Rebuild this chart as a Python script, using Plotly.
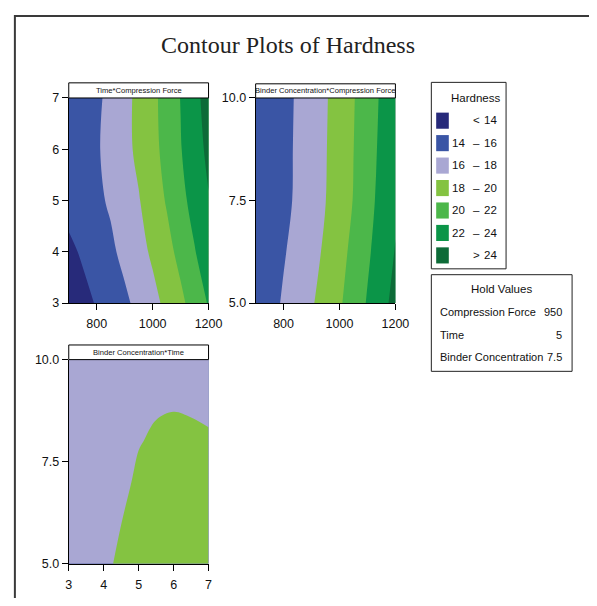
import plotly.graph_objects as go

# page is 597x606; body has an 8px margin, so the figure itself is 581x590
PAGE_W, PAGE_H = 597, 606
OFF = 8
W, H = PAGE_W - 2 * OFF, PAGE_H - 2 * OFF

# ---------------- data ----------------
levels = [14, 16, 18, 20, 22, 24]
band_colors = ["#272a7a", "#3a55a5", "#a9a7d3", "#84c341", "#4cb74a", "#0b9548", "#0d6b38"]

compression_force = [700, 750, 800, 850, 900, 950, 1000, 1050, 1100, 1150, 1200]
time_vals = [3, 4, 5, 6, 7]
binder_vals = [5.0, 6.25, 7.5, 8.75, 10.0]
time_vals_fine = [3, 3.5, 4, 4.5, 5, 5.5, 6, 6.5, 7]
binder_vals_p3 = [5, 6, 7, 8, 9, 10]

# Hardness, Time (rows) x Compression Force (cols)
hardness_time_cf = [
    [12.65, 13.40, 14.15, 14.90, 15.65, 16.50, 17.44, 18.45, 19.57, 20.83, 22.15],
    [13.55, 14.26, 14.96, 15.67, 16.48, 17.36, 18.30, 19.38, 20.56, 21.89, 23.20],
    [14.70, 15.18, 15.66, 16.23, 17.06, 17.88, 18.99, 20.15, 21.42, 22.70, 23.90],
    [14.50, 15.15, 15.80, 16.60, 17.47, 18.40, 19.44, 20.60, 21.90, 23.16, 24.43],
    [14.40, 15.06, 15.64, 16.52, 17.46, 18.46, 19.54, 20.75, 22.05, 23.42, 24.80],
]
# Hardness, Binder Concentration (rows) x Compression Force (cols)
hardness_bc_cf = [
    [14.50, 15.36, 16.21, 17.01, 17.81, 18.76, 19.76, 20.93, 22.15, 23.38, 24.60],
    [14.40, 15.13, 15.85, 16.63, 17.42, 18.28, 19.35, 20.49, 21.71, 22.90, 24.10],
    [14.30, 14.93, 15.57, 16.27, 17.12, 17.97, 19.01, 20.07, 21.31, 22.61, 23.70],
    [14.30, 14.93, 15.55, 16.23, 17.07, 17.90, 18.93, 19.98, 21.18, 22.39, 23.60],
    [14.30, 14.91, 15.52, 16.18, 17.01, 17.83, 18.84, 19.89, 21.06, 22.24, 23.40],
]
# Hardness, Binder Concentration (rows) x Time (cols)
hardness_bc_time = [
    [17.00, 17.30, 17.45, 18.475, 19.35, 19.76, 19.80, 19.79, 19.67],
    [16.90, 17.10, 17.00, 17.98, 18.85, 19.26, 19.36, 19.29, 19.17],
    [16.80, 16.90, 16.80, 17.50, 18.35, 18.76, 18.86, 18.79, 18.67],
    [16.70, 16.80, 16.70, 17.10, 17.90, 18.26, 18.36, 18.29, 18.17],
    [16.60, 16.70, 16.60, 16.80, 17.35, 17.76, 17.86, 17.79, 17.67],
    [16.50, 16.60, 16.50, 16.60, 16.90, 17.20, 17.30, 17.30, 17.20],
]

panel_titles = ["Time*Compression Force", "Binder Concentration*Compression Force", "Binder Concentration*Time"]
hold_names = ["Compression Force", "Time", "Binder Concentration"]
hold_values = ["950", "5", "7.5"]

# ---------------- helpers (page pixels -> paper) ----------------
def px(x):
    return (x - OFF) / W

def py(y):
    return 1 - (y - OFF) / H

SANS = "Liberation Sans, Arial, sans-serif"
colorscale = [[i / (len(band_colors) - 1), c] for i, c in enumerate(band_colors)]
contours = dict(start=levels[0], end=levels[-1], size=levels[1] - levels[0],
                coloring="fill", showlines=False)

fig = go.Figure()

def add_contour(x, y, z, xa, ya):
    fig.add_trace(go.Contour(x=x, y=y, z=z, autocontour=False, contours=contours,
                             colorscale=colorscale, showscale=False,
                             line=dict(width=0, smoothing=1.0),
                             xaxis=xa, yaxis=ya, hoverinfo="skip"))

add_contour(compression_force, time_vals, hardness_time_cf, "x", "y")
add_contour(compression_force, binder_vals, hardness_bc_cf, "x2", "y2")
add_contour(time_vals_fine, binder_vals_p3, hardness_bc_time, "x3", "y3")

# panel geometry (page pixels)
panels = [
    dict(x0=67.5, x1=211.5, y0=93, y1=303, hy=77.5),
    dict(x0=260, x1=404, y0=93, y1=303, hy=78.5),
    dict(x0=67.5, x1=211.5, y0=361, y1=570, hy=346),
]

tickfont = dict(family=SANS, size=12.5, color="#111")
axcommon = dict(showline=True, linecolor="black", linewidth=1, ticks="outside",
                ticklen=6, tickcolor="black", showgrid=False, zeroline=False,
                tickfont=tickfont, mirror=False, fixedrange=True)
xcommon = dict(ticklabelstandoff=3, **axcommon)

fig.update_layout(
    width=W, height=H, margin=dict(l=0, r=0, t=0, b=0),
    paper_bgcolor="white", plot_bgcolor="white", showlegend=False,
    xaxis=dict(domain=[px(panels[0]["x0"]), px(panels[0]["x1"])], range=[700, 1200],
               tickvals=[800, 1000, 1200], anchor="y", **xcommon),
    yaxis=dict(domain=[py(panels[0]["y1"]), py(panels[0]["y0"])], range=[3, 7],
               tickvals=[3, 4, 5, 6, 7], anchor="x", **axcommon),
    xaxis2=dict(domain=[px(panels[1]["x0"]), px(panels[1]["x1"])], range=[700, 1200],
                tickvals=[800, 1000, 1200], anchor="y2", **xcommon),
    yaxis2=dict(domain=[py(panels[1]["y1"]), py(panels[1]["y0"])], range=[5, 10],
                tickvals=[5, 7.5, 10], tickformat=".1f", anchor="x2", **axcommon),
    xaxis3=dict(domain=[px(panels[2]["x0"]), px(panels[2]["x1"])], range=[3, 7],
                tickvals=[3, 4, 5, 6, 7], anchor="y3", **xcommon),
    yaxis3=dict(domain=[py(panels[2]["y1"]), py(panels[2]["y0"])], range=[5, 10],
                tickvals=[5, 7.5, 10], tickformat=".1f", anchor="x3", **axcommon),
)

shapes = []
annotations = []

# outer frame (left and top)
shapes.append(dict(type="path", xref="paper", yref="paper",
                   path=f"M {px(12)} {py(640)} L {px(12)} {py(9)} L {px(640)} {py(9)}",
                   line=dict(color="#3a3a3a", width=2)))

# title
annotations.append(dict(text="Contour Plots of Hardness", x=px(293.5), y=py(39),
                        xref="paper", yref="paper", xanchor="center", yanchor="middle",
                        showarrow=False,
                        font=dict(family="Liberation Serif, Times New Roman, serif", size=24, color="#222")))

# panel header boxes
for p, t in zip(panels, panel_titles):
    shapes.append(dict(type="rect", xref="paper", yref="paper",
                       x0=px(p["x0"]), x1=px(p["x1"]), y0=py(p["y0"]), y1=py(p["hy"]),
                       line=dict(color="black", width=1), fillcolor="white"))
    annotations.append(dict(text=t, x=px((p["x0"] + p["x1"]) / 2), y=py((p["y0"] + p["hy"]) / 2),
                            xref="paper", yref="paper", xanchor="center", yanchor="middle",
                            showarrow=False, font=dict(family=SANS, size=7.6, color="#111")))

# legend box
shapes.append(dict(type="rect", xref="paper", yref="paper",
                   x0=px(441), x1=px(518), y0=py(268), y1=py(77),
                   line=dict(color="#222", width=1), fillcolor="white"))
lfont = dict(family=SANS, size=11.5, color="#111")
annotations.append(dict(text="Hardness", x=px(487), y=py(93), xref="paper", yref="paper",
                        xanchor="center", yanchor="middle", showarrow=False, font=lfont))
for i, col in enumerate(band_colors):
    cy = 116 + 23 * i
    shapes.append(dict(type="rect", xref="paper", yref="paper",
                       x0=px(446), x1=px(459), y0=py(cy + 8.5), y1=py(cy - 8),
                       line=dict(width=0), fillcolor=col))
    if i == 0:
        lo, sep, hi = "", "<", str(levels[0])
    elif i == len(band_colors) - 1:
        lo, sep, hi = "", ">", str(levels[-1])
    else:
        lo, sep, hi = str(levels[i - 1]), "–", str(levels[i])
    if lo:
        annotations.append(dict(text=lo, x=px(478), y=py(cy), xref="paper", yref="paper",
                                xanchor="right", yanchor="middle", showarrow=False, font=lfont))
    annotations.append(dict(text=sep, x=px(487.5), y=py(cy), xref="paper", yref="paper",
                            xanchor="center", yanchor="middle", showarrow=False, font=lfont))
    annotations.append(dict(text=hi, x=px(511), y=py(cy), xref="paper", yref="paper",
                            xanchor="right", yanchor="middle", showarrow=False, font=lfont))

# hold values box
shapes.append(dict(type="rect", xref="paper", yref="paper",
                   x0=px(441), x1=px(586), y0=py(373), y1=py(274),
                   line=dict(color="#222", width=1), fillcolor="white"))
hfont = dict(family=SANS, size=11, color="#111")
annotations.append(dict(text="Hold Values", x=px(513), y=py(289), xref="paper", yref="paper",
                        xanchor="center", yanchor="middle", showarrow=False, font=lfont))
for i, (n, v) in enumerate(zip(hold_names, hold_values)):
    cy = 312.5 + 23 * i
    annotations.append(dict(text=n, x=px(448), y=py(cy), xref="paper", yref="paper",
                            xanchor="left", yanchor="middle", showarrow=False, font=hfont))
    annotations.append(dict(text=v, x=px(578), y=py(cy), xref="paper", yref="paper",
                            xanchor="right", yanchor="middle", showarrow=False, font=hfont))

fig.update_layout(shapes=shapes, annotations=annotations)
fig.write_html("out.html")
